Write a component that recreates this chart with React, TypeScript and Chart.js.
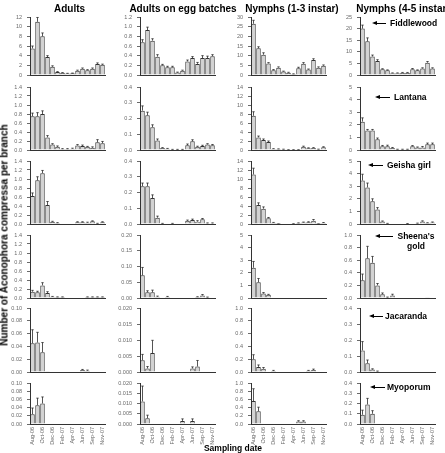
import React, { useEffect, useRef } from "react";
import { Chart, registerables } from "chart.js";
Chart.register(...registerables);

// ---------- categories & labels ----------
const months = ["Aug-06", "Sep-06", "Oct-06", "Nov-06", "Dec-06", "Jan-07", "Feb-07", "Mar-07", "Apr-07", "May-07", "Jun-07", "Jul-07", "Sep-07", "Oct-07", "Nov-07"];
const stageTitles = ["Adults", "Adults on egg batches", "Nymphs (1-3 instar)", "Nymphs (4-5 instar)"];
const hostNames = ["Fiddlewood", "Lantana", "Geisha girl", "Sheena's gold", "Jacaranda", "Myoporum"];
const yTitle = "Number of Aconophora compressa per branch";
const xTitle = "Sampling date";

// ---------- Fiddlewood ----------
const fiddAdults = [5.5, 11, 8, 3.7, 1.7, 0.6, 0.45, 0.3, 0.35, 0.9, 1.3, 1.0, 1.3, 2.3, 2.1];
const fiddAdultsSE = [0.5, 0.9, 0.7, 0.3, 0.2, 0.1, 0.05, 0.05, 0.05, 0.1, 0.15, 0.1, 0.15, 0.2, 0.15];
const fiddEggs = [0.68, 0.93, 0.71, 0.38, 0.2, 0.16, 0.16, 0.05, 0.09, 0.28, 0.35, 0.23, 0.35, 0.35, 0.39];
const fiddEggsSE = [0.05, 0.06, 0.04, 0.04, 0.02, 0.02, 0.02, 0.01, 0.01, 0.03, 0.03, 0.03, 0.05, 0.04, 0.03];
const fiddN13 = [26.5, 13.8, 10.5, 6.0, 2.5, 3.8, 1.8, 1.2, 0.5, 3.5, 5.8, 2.8, 7.8, 3.8, 4.8];
const fiddN13SE = [1.8, 0.8, 1.0, 0.4, 0.3, 0.4, 0.2, 0.2, 0.1, 0.5, 0.6, 0.3, 0.6, 0.4, 0.4];
const fiddN45 = [20, 14.5, 8, 6, 2.5, 2, 0.8, 0.8, 1.0, 1.0, 2.5, 2.0, 2.8, 5.3, 2.8];
const fiddN45SE = [1.5, 1.5, 0.6, 0.6, 0.2, 0.2, 0.1, 0.1, 0.1, 0.1, 0.3, 0.2, 0.3, 0.5, 0.3];

// ---------- Lantana ----------
const lantAdults = [0.75, 0.75, 0.8, 0.28, 0.12, 0.07, 0.02, 0.02, 0.03, 0.1, 0.09, 0.07, 0.05, 0.17, 0.15];
const lantAdultsSE = [0.07, 0.08, 0.07, 0.04, 0.02, 0.02, 0.01, 0.01, 0.01, 0.02, 0.02, 0.01, 0.02, 0.06, 0.04];
const lantEggs = [0.25, 0.22, 0.145, 0.06, 0.012, 0.008, 0.003, 0.003, 0.003, 0.03, 0.055, 0.02, 0.025, 0.035, 0.03];
const lantEggsSE = [0.03, 0.02, 0.015, 0.01, 0.003, 0.002, 0.001, 0.001, 0.001, 0.008, 0.01, 0.004, 0.005, 0.005, 0.005];
const lantN13 = [7.6, 2.8, 2.2, 1.8, 0.25, 0.2, 0.15, 0.05, 0.05, 0.05, 0.7, 0.4, 0.45, 0.15, 0.6];
const lantN13SE = [0.9, 0.3, 0.25, 0.2, 0.05, 0.05, 0.03, 0.02, 0.02, 0.02, 0.15, 0.08, 0.08, 0.04, 0.12];
const lantN45 = [2.25, 1.55, 1.55, 0.85, 0.3, 0.3, 0.15, 0.05, 0.05, 0.05, 0.3, 0.2, 0.2, 0.45, 0.45];
const lantN45SE = [0.3, 0.08, 0.08, 0.1, 0.06, 0.08, 0.05, 0.01, 0.01, 0.01, 0.05, 0.04, 0.08, 0.1, 0.1];

// ---------- Geisha girl ----------
const geisAdults = [0.62, 0.97, 1.13, 0.42, 0.05, 0.02, 0, 0, 0, 0.04, 0.04, 0.03, 0.06, 0.01, 0.04];
const geisAdultsSE = [0.07, 0.08, 0.06, 0.08, 0.01, 0.01, 0, 0, 0, 0.01, 0.01, 0.01, 0.01, 0.005, 0.01];
const geisEggs = [0.24, 0.24, 0.165, 0.04, 0.003, 0, 0.003, 0, 0, 0.02, 0.025, 0.015, 0.03, 0.005, 0.005];
const geisEggsSE = [0.02, 0.02, 0.02, 0.01, 0.001, 0, 0.001, 0, 0, 0.005, 0.006, 0.006, 0.005, 0.002, 0.002];
const geisN13 = [11, 4.2, 3.4, 1.3, 0.3, 0.02, 0, 0, 0.05, 0.2, 0.35, 0.4, 0.75, 0.02, 0.25];
const geisN13SE = [1.4, 0.5, 0.4, 0.15, 0.05, 0.01, 0, 0, 0.02, 0.05, 0.08, 0.1, 0.25, 0.01, 0.08];
const geisN45 = [3.45, 2.9, 1.8, 1.15, 0.2, 0.04, 0, 0, 0, 0.03, 0, 0.05, 0.2, 0.08, 0.12];
const geisN45SE = [0.5, 0.35, 0.2, 0.15, 0.04, 0.01, 0, 0, 0, 0.01, 0, 0.02, 0.05, 0.02, 0.04];

// ---------- Sheena's gold ----------
const sheeAdults = [0.14, 0.13, 0.28, 0.11, 0.03, 0.02, 0.02, 0, 0, 0, 0, 0.02, 0.02, 0.02, 0.02];
const sheeAdultsSE = [0.03, 0.02, 0.06, 0.03, 0.005, 0.005, 0.005, 0, 0, 0, 0, 0.005, 0.005, 0.005, 0.005];
const sheeEggs = [0.072, 0.018, 0.018, 0.004, 0, 0.003, 0, 0, 0, 0, 0, 0.003, 0.008, 0.002, 0];
const sheeEggsSE = [0.025, 0.005, 0.007, 0.002, 0, 0.002, 0, 0, 0, 0, 0, 0.001, 0.003, 0.001, 0];
const sheeN13 = [2.4, 1.25, 0.35, 0.25, 0, 0, 0, 0, 0, 0, 0, 0, 0, 0, 0];
const sheeN13SE = [0.5, 0.3, 0.08, 0.04, 0, 0, 0, 0, 0, 0, 0, 0, 0, 0, 0];
const sheeN45 = [0.28, 0.63, 0.56, 0.2, 0.06, 0.01, 0.04, 0, 0, 0, 0, 0, 0, 0.01, 0];
const sheeN45SE = [0.1, 0.19, 0.1, 0.03, 0.02, 0.005, 0.02, 0, 0, 0, 0, 0, 0, 0, 0];

// ---------- Jacaranda ----------
const jacaAdults = [0.045, 0.046, 0.031, 0.001, 0, 0, 0, 0, 0, 0, 0.003, 0.002, 0, 0, 0];
const jacaAdultsSE = [0.021, 0.016, 0.015, 0, 0, 0, 0, 0, 0, 0, 0.001, 0.001, 0, 0, 0];
const jacaEggs = [0.0037, 0.0011, 0.0059, 0, 0, 0, 0, 0, 0, 0, 0.0011, 0.0017, 0, 0, 0];
const jacaEggsSE = [0.0018, 0.0006, 0.004, 0, 0, 0, 0, 0, 0, 0, 0.0005, 0.0019, 0, 0, 0];
const jacaN13 = [0.2, 0.08, 0.05, 0, 0.015, 0, 0, 0, 0, 0, 0, 0.02, 0.03, 0, 0];
const jacaN13SE = [0.07, 0.03, 0.02, 0, 0.01, 0, 0, 0, 0, 0, 0, 0.005, 0.015, 0, 0];
const jacaN45 = [0.135, 0.055, 0.015, 0.004, 0, 0, 0, 0, 0, 0, 0, 0, 0, 0, 0];
const jacaN45SE = [0.055, 0.02, 0.005, 0.002, 0, 0, 0, 0, 0, 0, 0, 0, 0, 0, 0];

// ---------- Myoporum ----------
const myopAdults = [0.024, 0.046, 0.05, 0, 0, 0, 0, 0, 0.001, 0, 0.001, 0, 0, 0, 0];
const myopAdultsSE = [0.015, 0.017, 0.016, 0, 0, 0, 0, 0, 0, 0, 0, 0, 0, 0, 0];
const myopEggs = [0.011, 0.0028, 0, 0, 0, 0, 0, 0, 0.0015, 0, 0.0015, 0, 0, 0, 0];
const myopEggsSE = [0.0075, 0.0015, 0, 0, 0, 0, 0, 0, 0.001, 0, 0.001, 0, 0, 0, 0];
const myopN13 = [0.56, 0.31, 0.01, 0, 0, 0, 0, 0, 0, 0.06, 0.06, 0, 0, 0, 0];
const myopN13SE = [0.3, 0.1, 0, 0, 0, 0, 0, 0, 0, 0.02, 0.02, 0, 0, 0, 0];
const myopN45 = [0.09, 0.19, 0.1, 0, 0, 0, 0, 0, 0, 0, 0, 0, 0, 0, 0];
const myopN45SE = [0.045, 0.06, 0.03, 0, 0, 0, 0, 0, 0, 0, 0, 0, 0, 0, 0];

// ---------- y-axis tick specs per row (Adults, Eggs, N1-3, N4-5) ----------
const yMaxRows = [
  [12, 1.2, 30, 25],
  [1.4, 0.4, 14, 5],
  [1.4, 0.4, 14, 5],
  [1.4, 0.2, 5, 1.0],
  [0.1, 0.02, 1.0, 0.4],
  [0.1, 0.02, 1.0, 0.4],
];
const yStepRows = [
  [2, 0.2, 5, 5],
  [0.2, 0.1, 2, 1],
  [0.2, 0.1, 2, 1],
  [0.2, 0.05, 1, 0.2],
  [0.02, 0.005, 0.2, 0.1],
  [0.02, 0.005, 0.2, 0.1],
];
const yDecRows = [
  [0, 1, 0, 0],
  [1, 1, 0, 0],
  [1, 1, 0, 0],
  [1, 2, 0, 1],
  [2, 3, 1, 1],
  [2, 3, 1, 1],
];

const seriesRows = [
  [[fiddAdults, fiddAdultsSE], [fiddEggs, fiddEggsSE], [fiddN13, fiddN13SE], [fiddN45, fiddN45SE]],
  [[lantAdults, lantAdultsSE], [lantEggs, lantEggsSE], [lantN13, lantN13SE], [lantN45, lantN45SE]],
  [[geisAdults, geisAdultsSE], [geisEggs, geisEggsSE], [geisN13, geisN13SE], [geisN45, geisN45SE]],
  [[sheeAdults, sheeAdultsSE], [sheeEggs, sheeEggsSE], [sheeN13, sheeN13SE], [sheeN45, sheeN45SE]],
  [[jacaAdults, jacaAdultsSE], [jacaEggs, jacaEggsSE], [jacaN13, jacaN13SE], [jacaN45, jacaN45SE]],
  [[myopAdults, myopAdultsSE], [myopEggs, myopEggsSE], [myopN13, myopN13SE], [myopN45, myopN45SE]],
];

// ---------- layout (pixels) ----------
const AXIS_X = [30, 140, 251, 360];
const ROW_TOP = [17, 87, 161, 235, 308, 383];
const ROW_ZERO = [75, 150, 224, 298, 372, 424];
const PLOT_W = 75;
const Y_AXIS_W = 30;
const PAD_T = 6;
const PAD_R = 3;
const FONT = "'Liberation Sans', Arial, Helvetica, sans-serif";
const BAR_FILL = "#d3d3d3";
const BAR_EDGE = "#333333";
const TICK_COLOR = "#6a6a6a";

const errorBarPlugin = {
  id: "errbars",
  afterDatasetsDraw(chart: any, _args: any, opts: any) {
    const errs = opts && opts.errors;
    if (!errs) return;
    const meta = chart.getDatasetMeta(0);
    const ys = chart.scales.y;
    const vals = chart.data.datasets[0].data;
    const ctx = chart.ctx;
    ctx.save();
    ctx.strokeStyle = "#2a2a2a";
    ctx.lineWidth = 0.8;
    meta.data.forEach((bar: any, i: number) => {
      const e = errs[i];
      if (!e) return;
      const yTop = ys.getPixelForValue(vals[i] + e);
      ctx.beginPath();
      ctx.moveTo(bar.x, bar.y);
      ctx.lineTo(bar.x, yTop);
      ctx.moveTo(bar.x - 1.2, yTop);
      ctx.lineTo(bar.x + 1.2, yTop);
      ctx.stroke();
    });
    ctx.restore();
  },
};

function Panel(props: any) {
  const { row, col } = props;
  const ref = useRef<HTMLCanvasElement>(null);
  const bottom = row === 5;
  const xh = bottom ? 30 : 4;
  const left = AXIS_X[col] - Y_AXIS_W;
  const top = ROW_TOP[row] - PAD_T;
  const width = Y_AXIS_W + PLOT_W + PAD_R;
  const height = ROW_ZERO[row] - ROW_TOP[row] + PAD_T + xh;

  useEffect(() => {
    const [values, errs] = seriesRows[row][col];
    const dec = yDecRows[row][col];
    const chart = new Chart(ref.current as HTMLCanvasElement, {
      type: "bar",
      data: {
        labels: months,
        datasets: [
          {
            data: values,
            backgroundColor: BAR_FILL,
            borderColor: BAR_EDGE,
            borderWidth: 1,
            barPercentage: 0.9,
            categoryPercentage: 1,
          },
        ],
      },
      options: {
        responsive: false,
        maintainAspectRatio: false,
        animation: false,
        layout: { padding: { top: PAD_T, right: PAD_R, left: 0, bottom: 0 } },
        plugins: {
          legend: { display: false },
          tooltip: { enabled: false },
          title: { display: false },
          errbars: { errors: errs },
        } as any,
        scales: {
          x: {
            type: "category",
            offset: true,
            grid: { display: true, drawOnChartArea: false, drawTicks: false },
            border: { display: true, color: "#333", width: 1 },
            ticks: {
              display: bottom,
              autoSkip: false,
              maxRotation: 90,
              minRotation: 90,
              padding: 3,
              color: TICK_COLOR,
              font: { family: FONT, size: 5.5 },
              callback: (_v: any, i: number) => (i % 2 === 0 ? months[i] : ""),
            },
            afterFit: (s: any) => {
              s.height = xh;
              s.paddingLeft = 0;
              s.paddingRight = 0;
            },
          },
          y: {
            min: 0,
            max: yMaxRows[row][col],
            grid: { display: true, drawOnChartArea: false, drawTicks: true, tickLength: 3, color: "#444", lineWidth: 0.8 },
            border: { display: true, color: "#333", width: 1 },
            ticks: {
              stepSize: yStepRows[row][col],
              autoSkip: false,
              padding: 5,
              color: TICK_COLOR,
              font: { family: FONT, size: 5.5 },
              callback: (v: any) => Number(v).toFixed(dec),
            },
            afterFit: (s: any) => {
              s.width = Y_AXIS_W;
              s.paddingTop = 0;
              s.paddingBottom = 0;
            },
          },
        },
      } as any,
      plugins: [errorBarPlugin as any],
    });
    return () => chart.destroy();
  }, []);

  return (
    <canvas
      ref={ref}
      width={width}
      height={height}
      style={{ position: "absolute", left, top, width, height }}
    />
  );
}

function Arrow(props: any) {
  const { x1, x2, y } = props;
  return (
    <>
      <div style={{ position: "absolute", left: x1 + 3, top: y - 0.5, width: x2 - x1 - 3, height: 1, background: "#000" }} />
      <div
        style={{
          position: "absolute",
          left: x1,
          top: y - 2.5,
          width: 0,
          height: 0,
          borderTop: "2.5px solid transparent",
          borderBottom: "2.5px solid transparent",
          borderRight: "5px solid #000",
        }}
      />
    </>
  );
}

const TITLE_X = [69.5, 183, 292, 403];
const HOST_LABELS = [
  { x1: 372, x2: 386, tx: 390, y: 23 },
  { x1: 375, x2: 390, tx: 394, y: 97 },
  { x1: 368, x2: 383, tx: 387, y: 165 },
  { x1: 375, x2: 393, tx: 396, y: 236 },
  { x1: 369, x2: 383, tx: 385, y: 316 },
  { x1: 370, x2: 385, tx: 387, y: 387 },
];

export default function App() {
  const panels: any[] = [];
  for (let r = 0; r < 6; r++) for (let c = 0; c < 4; c++) panels.push(<Panel key={r + "-" + c} row={r} col={c} />);
  const bold = { fontFamily: FONT, fontWeight: 700, color: "#000", whiteSpace: "nowrap" as const };
  return (
    <div style={{ position: "fixed", left: 0, top: 0, width: 445, height: 453, background: "#fff", overflow: "hidden" }}>
      {panels}
      {stageTitles.map((t, i) => (
        <div key={t} style={{ ...bold, position: "absolute", left: TITLE_X[i], top: 9, transform: "translate(-50%, -50%)", fontSize: 10, lineHeight: "12px" }}>
          {t}
        </div>
      ))}
      {hostNames.map((h, i) => {
        const p = HOST_LABELS[i];
        const isTwo = h === "Sheena's gold";
        return (
          <React.Fragment key={h}>
            <Arrow x1={p.x1} x2={p.x2} y={p.y} />
            {isTwo ? (
              <div style={{ ...bold, position: "absolute", left: p.tx, top: p.y - 5, width: 40, textAlign: "center", fontSize: 8.5, lineHeight: "10px" }}>
                Sheena's
                <br />
                gold
              </div>
            ) : (
              <div style={{ ...bold, position: "absolute", left: p.tx, top: p.y, transform: "translateY(-50%)", fontSize: 8.5, lineHeight: "10px" }}>
                {h}
              </div>
            )}
          </React.Fragment>
        );
      })}
      <div style={{ ...bold, position: "absolute", left: 4, top: 234.5, transform: "translate(-50%, -50%) rotate(-90deg)", fontSize: 10, lineHeight: "11px" }}>
        {yTitle}
      </div>
      <div style={{ ...bold, position: "absolute", left: 233, top: 448, transform: "translate(-50%, -50%)", fontSize: 8.5, lineHeight: "10px" }}>
        {xTitle}
      </div>
    </div>
  );
}
